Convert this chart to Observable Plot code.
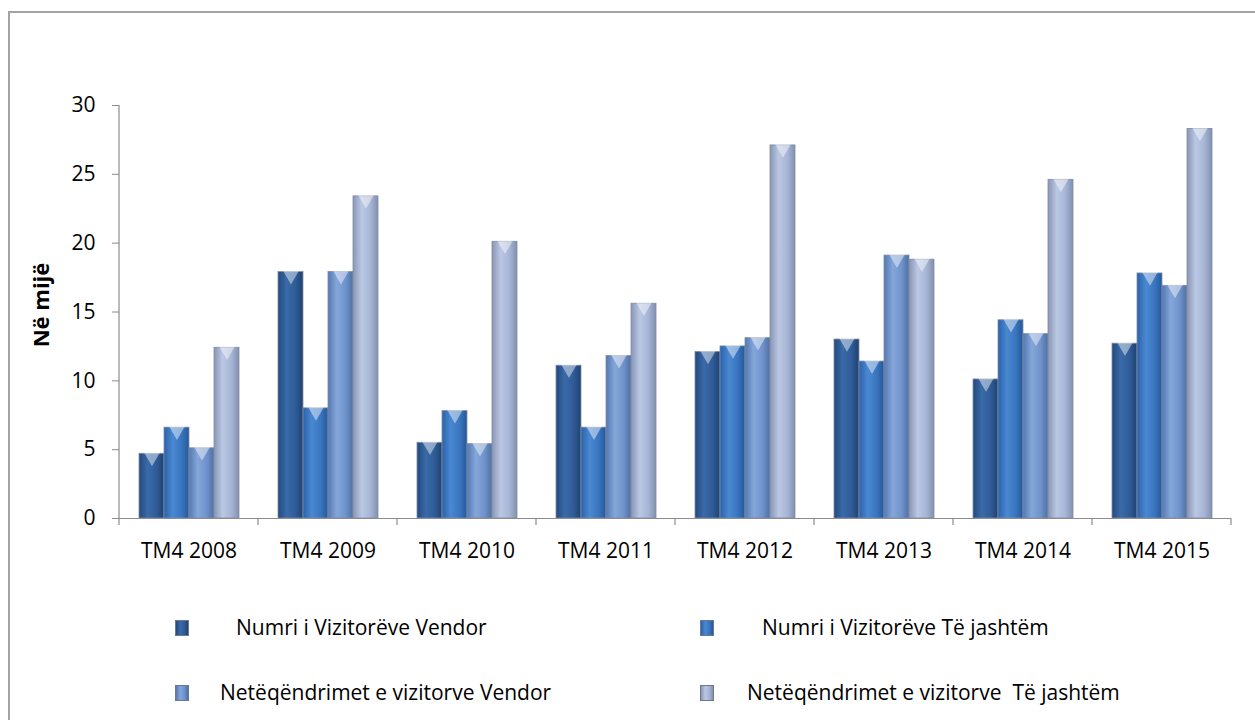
<!DOCTYPE html>
<html><head><meta charset="utf-8">
<script src="https://cdn.jsdelivr.net/npm/d3@7"></script>
<script src="https://cdn.jsdelivr.net/npm/@observablehq/plot@0.6"></script>
<style>
body{margin:0;background:#fff;font-family:'Open Sans',sans-serif;width:1255px;height:720px;overflow:hidden;position:relative;}
#frame{position:absolute;left:8px;top:11px;width:1300px;height:760px;border-left:2px solid #a3a3a3;border-top:2px solid #a3a3a3;}
#chart{position:absolute;left:0;top:0;}
.leg{position:absolute;font-size:21px;color:#000;white-space:pre;line-height:26px;}
.sw{position:absolute;width:12px;height:14px;border:0.5px solid #6a7891;}
</style></head><body>
<div id="frame"></div>
<div id="chart"></div>
<div id="legend"></div>
<script>
const periods = ["TM4 2008","TM4 2009","TM4 2010","TM4 2011","TM4 2012","TM4 2013","TM4 2014","TM4 2015"];
const seriesNames = ["Numri i Vizitorëve Vendor","Numri i Vizitorëve Të jashtëm","Netëqëndrimet e vizitorve Vendor","Netëqëndrimet e vizitorve  Të jashtëm"];
const vizitoretVendor = [4.7,17.9,5.5,11.1,12.1,13.0,10.1,12.7];
const vizitoretJashtem = [6.6,8.0,7.8,6.6,12.5,11.4,14.4,17.8];
const netVendor = [5.1,17.9,5.4,11.8,13.1,19.1,13.4,16.9];
const netJashtem = [12.4,23.4,20.1,15.6,27.1,18.8,24.6,28.3];
const yTicks = [0,5,10,15,20,25,30];
const yLabel = "Në mijë";

const seriesValues = [vizitoretVendor, vizitoretJashtem, netVendor, netJashtem];
const data = periods.flatMap((p,i)=>seriesNames.map((s,j)=>({period:p, series:s, value:seriesValues[j][i]})));

const gradStops = [
  [["0","#22497d"],["0.35","#3a6aa8"],["0.7","#2f5c98"],["1","#1f426f"]],
  [["0","#2a62aa"],["0.35","#4a88d2"],["0.7","#3a76c0"],["1","#24589a"]],
  [["0","#5478b0"],["0.35","#84a6da"],["0.7","#6f93cb"],["1","#4f70a3"]],
  [["0","#8896b5"],["0.35","#bac8e4"],["0.7","#a6b5d5"],["1","#8290ae"]]
];
const gradIds = ["g0","g1","g2","g3"];

const chart = Plot.plot({
  width: 1255, height: 580,
  marginLeft: 117, marginRight: 23, marginTop: 105, marginBottom: 62,
  style: {fontFamily: "'Open Sans', sans-serif", fontSize: "21px", color: "#000", background: "transparent", overflow: "visible"},
  fx: {domain: periods, paddingInner: 0, paddingOuter: 0, label: null, tickSize: 0, tickPadding: 25},
  x: {domain: seriesNames, paddingInner: 0, paddingOuter: 0.707, axis: null},
  y: {domain: [0,30], label: null},
  color: {domain: seriesNames, range: gradIds.map(id=>`url(#${id})`)},
  marks: [
    Plot.axisY({ticks: yTicks, tickSize: 7, tickPadding: 17, stroke: "#8c8c8c", fill: "#000", label: null}),
    Plot.barY(data, {fx: "period", x: "series", y: "value", fill: "series", stroke: "#7f8ca5", strokeWidth: 0.8}),
    Plot.dot(data, {fx: "period", x: "series", y: "value", symbol: "triangle", rotate: 180, r: 6, dy: 3, fill: "#ffffff", fillOpacity: 0.45, stroke: "none"}),
    Plot.ruleY([0], {stroke: "#8c8c8c", strokeWidth: 1.2})
  ]
});
document.getElementById("chart").appendChild(chart);

const svg = d3.select(chart.tagName.toLowerCase()==="svg" ? chart : chart.querySelector("svg"));
const defs = svg.insert("defs", ":first-child");
gradStops.forEach((stops,i)=>{
  const lg = defs.append("linearGradient").attr("id", gradIds[i]).attr("x1",0).attr("x2",1).attr("y1",0).attr("y2",0);
  stops.forEach(([o,c])=>lg.append("stop").attr("offset",o).attr("stop-color",c));
});

// axis lines and category boundary ticks
const fx = chart.scale("fx");
const y = chart.scale("y");
const y0 = y.apply(0), yTop = y.apply(30);
const bounds = periods.map(p=>fx.apply(p)).concat([fx.apply(periods[periods.length-1]) + fx.bandwidth]);
const g = svg.append("g").attr("stroke","#8c8c8c").attr("stroke-width",1.2);
g.append("line").attr("x1",bounds[0]).attr("x2",bounds[0]).attr("y1",yTop).attr("y2",y0+7);
bounds.slice(1).forEach(b=>g.append("line").attr("x1",b).attr("x2",b).attr("y1",y0).attr("y2",y0+7));

// y label
svg.append("text").attr("transform",`translate(49,305) rotate(-90)`)
  .attr("text-anchor","middle").attr("font-weight","bold").attr("font-size","22px")
  .attr("font-family","'Open Sans', sans-serif").text(yLabel);

// legend
const legPos = [
  {sx:175, tx:236, cy:627},
  {sx:700, tx:762, cy:627},
  {sx:175, tx:220, cy:692},
  {sx:700, tx:747, cy:692}
];
const leg = document.getElementById("legend");
seriesNames.forEach((s,i)=>{
  const p = legPos[i];
  const sw = document.createElement("div");
  sw.className = "sw";
  sw.style.left = p.sx+"px"; sw.style.top = (p.cy-7)+"px";
  sw.style.background = `linear-gradient(to right, ${gradStops[i].map(([o,c])=>c+" "+(o*100)+"%").join(",")})`;
  leg.appendChild(sw);
  const t = document.createElement("div");
  t.className = "leg";
  t.style.left = p.tx+"px"; t.style.top = (p.cy-13)+"px";
  t.textContent = s;
  leg.appendChild(t);
});
</script>
</body></html>
